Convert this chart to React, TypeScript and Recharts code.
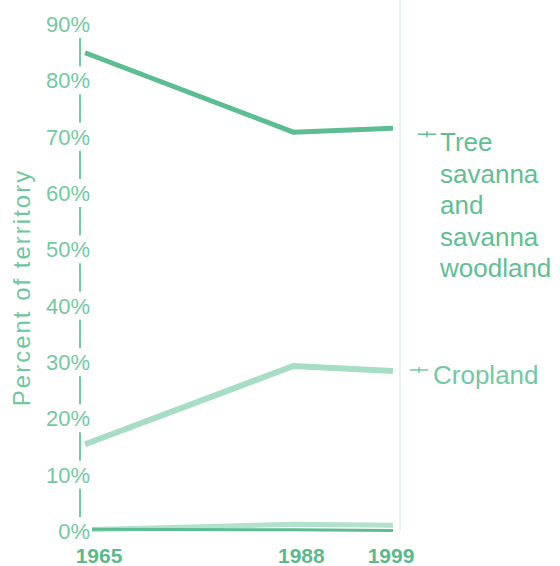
import React from "react";
import { LineChart, Line, XAxis, YAxis } from "recharts";

const years = [1965, 1988, 1999];
const treeSavanna = [84.9, 70.8, 71.5];
const cropland = [15.4, 29.3, 28.4];
const otherLight = [0.2, 1.2, 1.0];
const otherDark = [0.3, 0.2, 0.1];
const yTicks = [0, 10, 20, 30, 40, 50, 60, 70, 80, 90];
const yTickLabels = ["0%", "10%", "20%", "30%", "40%", "50%", "60%", "70%", "80%", "90%"];
const yTitle = "Percent of territory";
const treeLabel = ["Tree", "savanna", "and", "savanna", "woodland"];
const cropLabel = ["Cropland"];

const data = years.map((y, i) => ({
  year: y,
  tree: treeSavanna[i],
  crop: cropland[i],
  light: otherLight[i],
  dark: otherDark[i],
}));

const FONT = "'Liberation Sans', Arial, sans-serif";
const CHART_W = 560;
const CHART_H = 566;
const MARGIN = { top: 24, right: 167, bottom: 0, left: 0 };
const X_AXIS_H = 35;

const YTick = (props: any) => {
  const { x, y, payload } = props;
  const idx = yTicks.indexOf(payload.value);
  return (
    <g>
      <rect x={x - 36} y={y - 14} width={48} height={28} fill="#fff" />
      <text x={x + 10} y={y + 8} textAnchor="end" fontFamily={FONT} fontSize={22} fill="#72c9a2">
        {yTickLabels[idx]}
      </text>
    </g>
  );
};

const xShift = [14, 8, -2];
const XTick = (props: any) => {
  const { x, y, payload, index } = props;
  return (
    <text x={x + xShift[index]} y={y + 32} textAnchor="middle" fontFamily={FONT} fontWeight="bold" fontSize={21} fill="#5ab98c">
      {payload.value}
    </text>
  );
};

const makeLabel = (lines: string[], color: string, dy: number, markerDx: number, markerDy: number, textDx: number) => (props: any) => {
  const { x, y, index } = props;
  if (index !== years.length - 1) return null;
  return (
    <g>
      <line x1={x + markerDx} x2={x + markerDx + 18} y1={y + markerDy} y2={y + markerDy} stroke={color} strokeWidth={1.5} />
      <line x1={x + markerDx + 9} x2={x + markerDx + 9} y1={y + markerDy - 3} y2={y + markerDy + 3} stroke={color} strokeWidth={1.5} />
      {lines.map((l, i) => (
        <text key={i} x={x + textDx} y={y + dy + i * 31.5} fontFamily={FONT} fontSize={26} fill={color}>
          {l}
        </text>
      ))}
    </g>
  );
};

const TitleAndRule = () => {
  const plotBottom = CHART_H - MARGIN.bottom - X_AXIS_H;
  const plotTop = MARGIN.top;
  const ruleX = CHART_W - MARGIN.right + 7;
  const cx = 21;
  const cy = (plotTop + plotBottom) / 2 + 10;
  return (
    <g>
      <line x1={ruleX} x2={ruleX} y1={0} y2={plotBottom} stroke="#e8f5ef" strokeWidth={2} />
      <text
        x={cx}
        y={cy}
        transform={`rotate(-90 ${cx} ${cy})`}
        textAnchor="middle"
        dominantBaseline="central"
        fontFamily={FONT}
        fontSize={24}
        letterSpacing={2}
        fill="#6ec79f"
      >
        {yTitle}
      </text>
    </g>
  );
};

export default function App() {
  return (
    <div style={{ position: "absolute", left: 0, top: 0, width: CHART_W, height: CHART_H, background: "#fff" }}>
      <LineChart width={CHART_W} height={CHART_H} data={data} margin={MARGIN}>
        <XAxis
          dataKey="year"
          type="number"
          domain={[1965, 1999]}
          ticks={years}
          axisLine={false}
          tickLine={false}
          tickSize={0}
          tickMargin={0}
          height={X_AXIS_H}
          padding={{ left: 5, right: 0 }}
          tick={<XTick />}
          interval={0}
        />
        <YAxis
          type="number"
          domain={[0, 90]}
          ticks={yTicks}
          width={80}
          axisLine={{ stroke: "#74c9a1", strokeWidth: 2 }}
          tickLine={false}
          tickSize={0}
          tickMargin={0}
          tick={<YTick />}
          interval={0}
          label={<TitleAndRule />}
        />
        <Line dataKey="light" stroke="#b3e2cc" strokeWidth={5} dot={false} isAnimationActive={false} />
        <Line dataKey="dark" stroke="#5cbd91" strokeWidth={3} dot={false} isAnimationActive={false} />
        <Line
          dataKey="crop"
          stroke="#a7ddc4"
          strokeWidth={6}
          dot={false}
          isAnimationActive={false}
          label={makeLabel(cropLabel, "#72c9a2", 13, 17, -1, 40)}
        />
        <Line
          dataKey="tree"
          stroke="#5bbd91"
          strokeWidth={5}
          dot={false}
          isAnimationActive={false}
          label={makeLabel(treeLabel, "#5fbf93", 23, 25, 6, 47)}
        />
      </LineChart>
    </div>
  );
}
